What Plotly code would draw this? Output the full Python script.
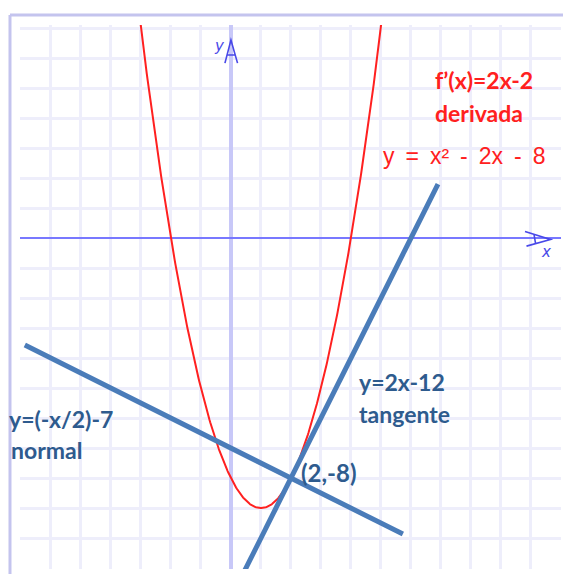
import numpy as np
import plotly.graph_objects as go

# Function y = a*x^2 + b*x + c and its tangent / normal at x0
parabola_coef = [1, -2, -8]
parabola_x_span = [-3.3, 5.3]
tangent_coef = [2, -12]          # y = 2x - 12
tangent_x_span = [0.35, 6.9]
normal_coef = [-0.5, -7]         # y = -x/2 - 7
normal_x_span = [-6.87, 5.73]
touch_point = [2, -8]

x_range = [-7.03, 11.0]
y_range = [-11.03, 7.1]

RED = "#ff2020"
LINE_BLUE = "#4a7cb9"
TEXT_BLUE = "#2e5b8e"
AXIS_BLUE = "#4848e8"
FONT = "Lato"

xp = np.linspace(parabola_x_span[0], parabola_x_span[1], 400)
yp = np.polyval(parabola_coef, xp)

xt = np.array(tangent_x_span)
yt = np.polyval(tangent_coef, xt)
xn = np.array(normal_x_span)
yn = np.polyval(normal_coef, xn)

fig = go.Figure()
fig.add_trace(go.Scatter(x=xp, y=yp, mode="lines",
                         line=dict(color=RED, width=2), hoverinfo="skip"))
fig.add_trace(go.Scatter(x=xn, y=yn, mode="lines",
                         line=dict(color=LINE_BLUE, width=5), hoverinfo="skip"))
fig.add_trace(go.Scatter(x=xt, y=yt, mode="lines",
                         line=dict(color=LINE_BLUE, width=5), hoverinfo="skip"))


def to_paper(x, y):
    px = (x - x_range[0]) / (x_range[1] - x_range[0])
    py = (y - y_range[0]) / (y_range[1] - y_range[0])
    return px, py


def label(text, x, y, color, size, bold=True, family=FONT):
    # placed in paper units so labels near the frame edge are not hidden
    px, py = to_paper(x, y)
    fig.add_annotation(
        x=px, y=py, xref="paper", yref="paper",
        text=f"<b>{text}</b>" if bold else text,
        showarrow=False, xanchor="left", yanchor="middle",
        font=dict(family=family, size=size, color=color))


GAP = " \u2009"  # slightly widened gap between the terms of the equation
label("f’(x)=2x-2", 6.72, 5.27, RED, 23)
label("derivada", 6.75, 4.17, RED, 23)
label(GAP.join(["y", "=", "x²", "-", "2x", "-", "8"]), 5.0, 2.72, RED, 23,
      bold=False, family="Liberation Sans")
label("y=2x-12", 4.2, -4.8, TEXT_BLUE, 23)
label("tangente", 4.2, -5.85, TEXT_BLUE, 23)
label("y=(-x/2)-7", -7.45, -6.03, TEXT_BLUE, 23)
label("normal", -7.4, -7.07, TEXT_BLUE, 23)
label(f"({touch_point[0]},{touch_point[1]})", touch_point[0] + 0.28,
      touch_point[1] + 0.17, TEXT_BLUE, 24)

# axis names
fig.add_annotation(x=-0.12, y=6.4, text="<i>y</i>", showarrow=False,
                   xanchor="right", yanchor="middle",
                   font=dict(family="DejaVu Sans", size=15, color=AXIS_BLUE))
fig.add_annotation(x=10.25, y=-0.47, text="<i>x</i>", showarrow=False,
                   xanchor="left", yanchor="middle",
                   font=dict(family="DejaVu Sans", size=15, color=AXIS_BLUE))

shapes = [
    # arrow tips on the axes
    dict(type="path", xref="x", yref="y",
         path="M -0.2,5.83 L 0,6.6 L 0.22,5.83 M -0.13,6.1 L 0.14,6.1",
         line=dict(color=AXIS_BLUE, width=1.6)),
    dict(type="path", xref="x", yref="y",
         path="M 9.8,0.22 L 10.65,-0.05 L 9.85,-0.27 M 10.1,0.12 L 10.15,-0.17",
         line=dict(color=AXIS_BLUE, width=1.6)),
    # window frame
    dict(type="line", xref="paper", yref="paper",
         x0=-0.0185, x1=-0.0185, y0=-0.02, y1=1.0184,
         line=dict(color="#c4c4ee", width=3)),
    dict(type="line", xref="paper", yref="paper",
         x0=-0.0185, x1=1.01, y0=1.0184, y1=1.0184,
         line=dict(color="#c4c4ee", width=3)),
]
fig.update_layout(shapes=shapes)

axis_common = dict(showticklabels=False, ticks="", dtick=1, tick0=0,
                   showgrid=True, gridcolor="#eeeefb", gridwidth=3,
                   showline=False, fixedrange=True)
fig.update_xaxes(range=x_range, zeroline=True, zerolinecolor="#c8c8f8",
                 zerolinewidth=4, **axis_common)
fig.update_yaxes(range=y_range, zeroline=True, zerolinecolor="#7878ff",
                 zerolinewidth=1.5, **axis_common)

fig.update_layout(
    width=563, height=574,
    margin=dict(l=20, r=2, t=25, b=5),
    paper_bgcolor="white", plot_bgcolor="white",
    showlegend=False,
)

fig.write_html("out.html")
